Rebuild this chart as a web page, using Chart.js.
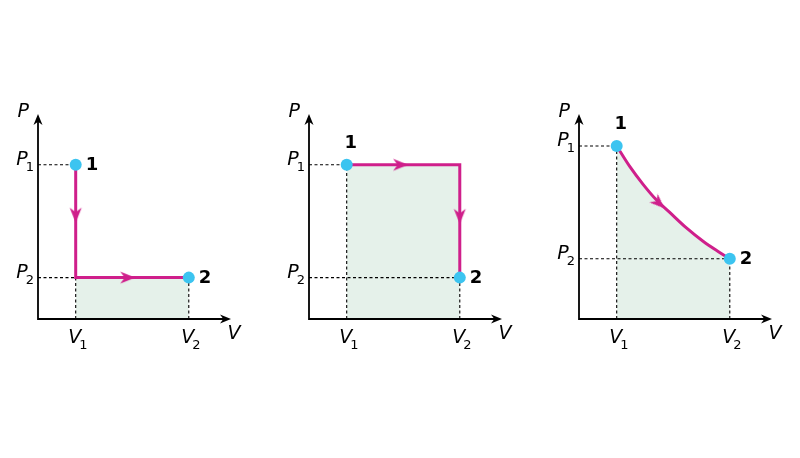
<!DOCTYPE html>
<html>
<head>
  <title>P-V diagrams</title>
<style>
  body{margin:0;background:#fff;}
  #wrap{position:relative;width:800px;height:458px;}
  .panel{position:absolute;top:0;}
</style>
</head>
<body>
<div id="wrap">
  <canvas id="pv1" class="panel" width="259" height="458" style="left:0px;width:259px;height:458px"></canvas>
  <canvas id="pv2" class="panel" width="259" height="458" style="left:271px;width:259px;height:458px"></canvas>
  <canvas id="pv3" class="panel" width="259" height="458" style="left:541px;width:259px;height:458px"></canvas>
</div>
<script src="https://cdn.jsdelivr.net/npm/chart.js@4.4.1/dist/chart.umd.min.js"></script>
<script>
// ---------------- data ----------------
// tick labels (subscripts) for the two states
var stateNames = ['1', '2'];

// panel 1: isochoric drop, then isobaric expansion
var pathV1 = [1, 1, 4];
var pathP1 = [4, 1, 1];
var stateV1 = [1, 4];
var stateP1 = [4, 1];
var arrowV1 = [1, 2.38];
var arrowP1 = [2.66, 1];

// panel 2: isobaric expansion, then isochoric drop
var pathV2 = [1, 4, 4];
var pathP2 = [4, 4, 1];
var stateV2 = [1, 4];
var stateP2 = [4, 1];
var arrowV2 = [2.43, 4];
var arrowP2 = [4, 2.63];

// panel 3: curved expansion
var pathV3 = [1, 1.35, 1.7, 2.05, 2.4, 2.85, 3.3, 3.7, 4];
var pathP3 = [4.5, 3.95, 3.48, 3.07, 2.74, 2.32, 1.96, 1.69, 1.5];
var stateV3 = [1, 4];
var stateP3 = [4.5, 1.5];
var arrowV3 = [2.12];
var arrowP3 = [2.98];

// ---------------- look ----------------
var pathColor = '#cf1f8b';
var stateColor = '#3cc4f0';
var areaColor = '#e5f1ea';
var inkColor = '#000';
var fontName = '"DejaVu Sans", Verdana, sans-serif';
var vMin = 0, vMax = 5.12, pMin = -0.1, pMax = 5.35;

function pts(xs, ys) {
  return xs.map(function(x, i) { return {x: x, y: ys[i]}; });
}

function makeHead(color, len, wid) {
  var c = document.createElement('canvas');
  var s = Math.ceil(Math.max(len, wid)) + 4;
  c.width = s; c.height = s;
  var g = c.getContext('2d');
  g.translate(s / 2, s / 2);
  g.fillStyle = color;
  g.beginPath();
  g.moveTo(len / 2, 0);
  g.lineTo(-len / 2, -wid / 2);
  g.lineTo(-len / 2 + len * 0.3, 0);
  g.lineTo(-len / 2, wid / 2);
  g.closePath();
  g.fill();
  return c;
}
var pathHead = makeHead(pathColor, 15, 12);

function drawHead(ctx, x, y, ang, len, wid) {
  ctx.save();
  ctx.translate(x, y);
  ctx.rotate(ang);
  ctx.beginPath();
  ctx.moveTo(0, 0);
  ctx.lineTo(-len, -wid / 2);
  ctx.lineTo(-len + len * 0.3, 0);
  ctx.lineTo(-len, wid / 2);
  ctx.closePath();
  ctx.fill();
  ctx.restore();
}

// label with a subscript: main italic, sub upright
function drawSub(ctx, main, sub, x, y, align) {
  ctx.font = 'italic 19px ' + fontName;
  var mw = ctx.measureText(main).width;
  ctx.font = '13px ' + fontName;
  var sw = ctx.measureText(sub).width;
  var start = align === 'right' ? x - mw - sw + 2 : x - mw / 2;
  ctx.textAlign = 'left';
  ctx.textBaseline = 'alphabetic';
  ctx.font = 'italic 19px ' + fontName;
  ctx.fillText(main, start, y);
  ctx.font = '13px ' + fontName;
  ctx.fillText(sub, start + mw - 2, y + 6);
}

// dashed guide from the axes to where the path first reaches a level
function guides(pv, pp, sv, sp) {
  var out = [];
  sp.forEach(function(p) {
    var xs = pv.filter(function(v, i) { return pp[i] === p; });
    out.push([{x: vMin, y: p}, {x: Math.min.apply(null, xs), y: p}]);
  });
  sv.forEach(function(v) {
    var ys = pp.filter(function(p, i) { return pv[i] === v; });
    out.push([{x: v, y: pMin}, {x: v, y: Math.min.apply(null, ys)}]);
  });
  return out;
}

// direction of the path at an arrow, in screen space
function headAngle(chart, path, pos) {
  var xs = chart.scales.x, ys = chart.scales.y;
  var best = 1e9, ang = 0;
  for (var i = 0; i < path.length - 1; i++) {
    var ax = xs.getPixelForValue(path[i].x), ay = ys.getPixelForValue(path[i].y);
    var bx = xs.getPixelForValue(path[i + 1].x), by = ys.getPixelForValue(path[i + 1].y);
    var px = xs.getPixelForValue(pos.x), py = ys.getPixelForValue(pos.y);
    var dx = bx - ax, dy = by - ay;
    var t = Math.max(0, Math.min(1, ((px - ax) * dx + (py - ay) * dy) / (dx * dx + dy * dy)));
    var d = Math.hypot(ax + t * dx - px, ay + t * dy - py);
    if (d < best) { best = d; ang = Math.atan2(dy, dx) * 180 / Math.PI; }
  }
  return ang;
}

var pvPlugin = {
  id: 'pv',
  afterDatasetsDraw: function(chart) {
    var cfg = chart.options.plugins.pv;
    var a = chart.chartArea, ctx = chart.ctx;
    var xs = chart.scales.x, ys = chart.scales.y;
    ctx.save();
    ctx.strokeStyle = inkColor;
    ctx.fillStyle = inkColor;
    ctx.lineWidth = 1.8;
    ctx.beginPath();
    ctx.moveTo(a.left, a.top + 5);
    ctx.lineTo(a.left, a.bottom);
    ctx.lineTo(a.right - 5, a.bottom);
    ctx.stroke();
    drawHead(ctx, a.left, a.top, -Math.PI / 2, 11, 9);
    drawHead(ctx, a.right, a.bottom, 0, 11, 9);

    // axis names
    ctx.font = 'italic 19px ' + fontName;
    ctx.textBaseline = 'alphabetic';
    ctx.textAlign = 'right';
    ctx.fillText('P', a.left - 9, a.top + 3);
    ctx.textAlign = 'center';
    ctx.fillText('V', a.right + 3, a.bottom + 20);

    // ticks
    cfg.sv.forEach(function(v, i) {
      drawSub(ctx, 'V', stateNames[i], xs.getPixelForValue(v) - 1, a.bottom + 24, 'center');
    });
    cfg.sp.forEach(function(p, i) {
      drawSub(ctx, 'P', stateNames[i], a.left - 4, ys.getPixelForValue(p), 'right');
    });

    // state numbers
    ctx.font = 'bold 18px ' + fontName;
    cfg.sv.forEach(function(v, i) {
      var x = xs.getPixelForValue(v), y = ys.getPixelForValue(cfg.sp[i]);
      if (i === 0 && cfg.firstAbove) {
        ctx.textAlign = 'center';
        ctx.textBaseline = 'alphabetic';
        ctx.fillText(stateNames[i], x + 4, y - 17);
      } else {
        ctx.textAlign = 'left';
        ctx.textBaseline = 'middle';
        ctx.fillText(stateNames[i], x + 10, y + 1);
      }
    });
    ctx.restore();
  }
};

function makePanel(id, pv, pp, sv, sp, av, ap, areaV, areaP, curved, firstAbove) {
  var path = pts(pv, pp);
  var ds = [];
  ds.push({
    data: pts(sv, sp), showLine: false,
    pointRadius: 6, pointHoverRadius: 6, pointBorderWidth: 0,
    pointBackgroundColor: stateColor
  });
  ds.push({
    data: pts(av, ap), showLine: false,
    pointStyle: pathHead, pointRadius: 6, pointHoverRadius: 6,
    pointRotation: function(c) { return headAngle(c.chart, path, c.raw); }
  });
  ds.push({
    data: path, borderColor: pathColor, borderWidth: 3, pointRadius: 0,
    tension: 0, cubicInterpolationMode: curved ? 'monotone' : 'default',
    borderJoinStyle: 'miter', fill: false
  });
  guides(pv, pp, sv, sp).forEach(function(g) {
    ds.push({
      data: g, borderColor: '#000', borderWidth: 1.1, borderDash: [3, 2.5],
      pointRadius: 0, fill: false
    });
  });
  ds.push({
    data: pts(areaV, areaP), borderWidth: 0, pointRadius: 0,
    tension: 0, cubicInterpolationMode: curved ? 'monotone' : 'default',
    backgroundColor: areaColor, fill: 'start'
  });

  return new Chart(document.getElementById(id), {
    type: 'line',
    data: {datasets: ds},
    options: {
      responsive: false,
      animation: false,
      events: [],
      layout: {padding: {left: 38, right: 28, top: 114, bottom: 139}},
      scales: {
        x: {type: 'linear', min: vMin, max: vMax, display: false},
        y: {type: 'linear', min: pMin, max: pMax, display: false}
      },
      plugins: {
        legend: {display: false},
        tooltip: {enabled: false},
        pv: {sv: sv, sp: sp, firstAbove: firstAbove}
      }
    },
    plugins: [pvPlugin]
  });
}

makePanel('pv1', pathV1, pathP1, stateV1, stateP1, arrowV1, arrowP1, [1, 4], [1, 1], false, false);
makePanel('pv2', pathV2, pathP2, stateV2, stateP2, arrowV2, arrowP2, [1, 4], [4, 4], false, true);
makePanel('pv3', pathV3, pathP3, stateV3, stateP3, arrowV3, arrowP3, pathV3, pathP3, true, true);
</script>
</body>
</html>
